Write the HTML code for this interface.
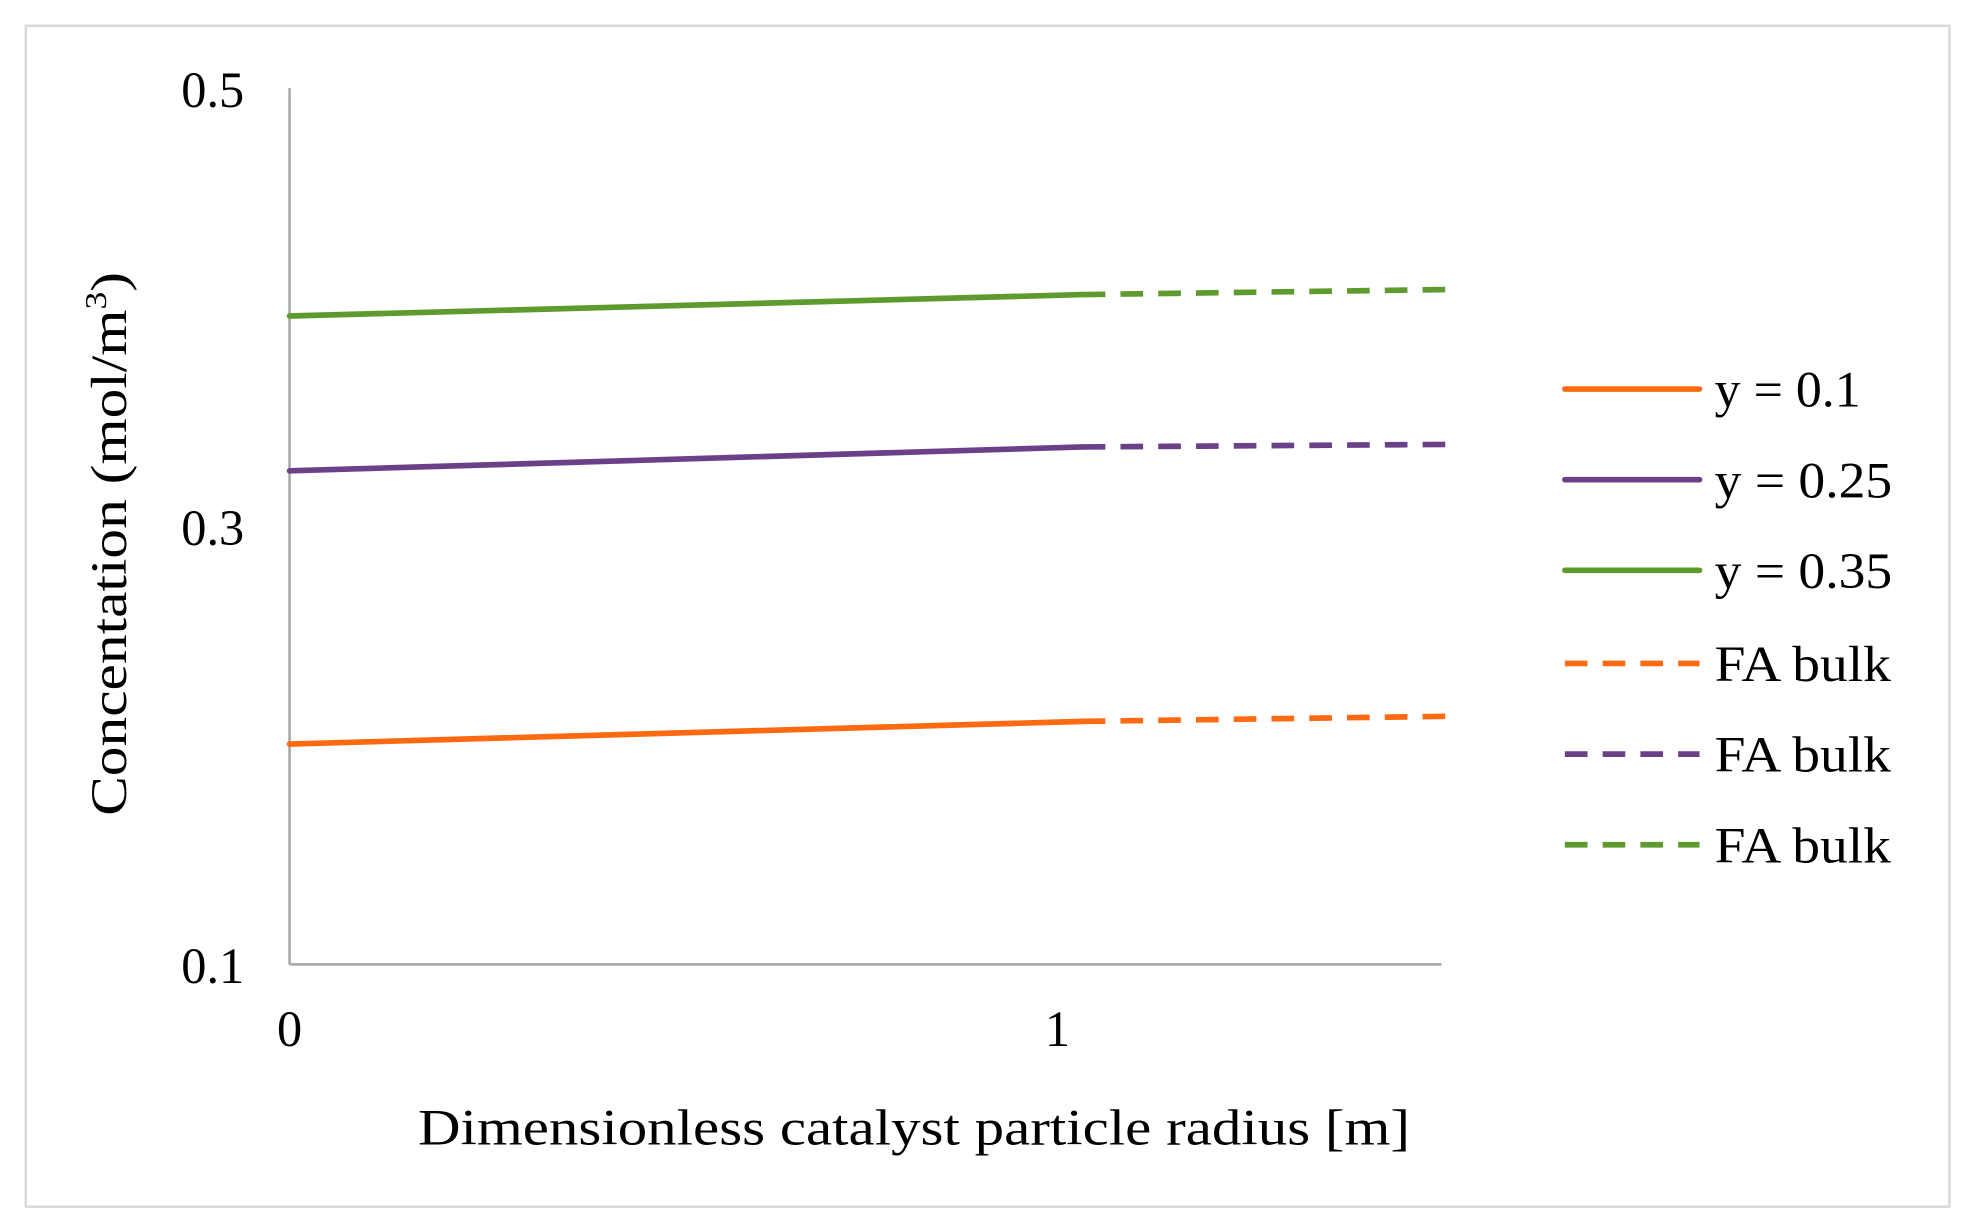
<!DOCTYPE html>
<html><head><meta charset="utf-8"><style>html,body{margin:0;padding:0;background:#fff;}svg{display:block}</style></head>
<body>
<svg width="1974" height="1230" viewBox="0 0 1568 977" xmlns="http://www.w3.org/2000/svg" font-family="'Liberation Serif', serif" fill="#000">
<rect x="0" y="0" width="1568" height="977" fill="#fff"/>
<rect x="20.5" y="20.5" width="1528" height="938" fill="none" stroke="#d9d9d9" stroke-width="2"/>
<line x1="230" y1="70" x2="230" y2="766" stroke="#a6a6a6" stroke-width="2"/>
<line x1="230" y1="766" x2="1145" y2="766" stroke="#a6a6a6" stroke-width="2"/>
<g font-size="40" text-anchor="end">
<text x="194" y="85">0.5</text>
<text x="194" y="433">0.3</text>
<text x="194" y="781">0.1</text>
</g>
<g font-size="40" text-anchor="middle">
<text x="230" y="831">0</text>
<text x="840" y="831">1</text>
</g>
<text x="726" y="909" font-size="40" text-anchor="middle" textLength="788" lengthAdjust="spacingAndGlyphs">Dimensionless catalyst particle radius [m]</text>
<text transform="translate(100,432) rotate(-90)" font-size="40" text-anchor="middle" textLength="432" lengthAdjust="spacingAndGlyphs">Concentation (mol/m<tspan font-size="24" dy="-16">3</tspan><tspan dy="16">)</tspan></text>
<g stroke-width="4.5" fill="none" stroke-linecap="round">
<polyline points="230,251 860,234" stroke="#5f9a2f"/>
<polyline points="860,234 1148,230" stroke="#5f9a2f" stroke-dasharray="18,12" stroke-linecap="butt"/>
<polyline points="230,374 860,355" stroke="#6a4189"/>
<polyline points="860,355 1148,353" stroke="#6a4189" stroke-dasharray="18,12" stroke-linecap="butt"/>
<polyline points="230,591 860,573" stroke="#fe6a12"/>
<polyline points="860,573 1148,569" stroke="#fe6a12" stroke-dasharray="18,12" stroke-linecap="butt"/>
<line x1="1243" y1="309" x2="1350" y2="309" stroke="#fe6a12"/>
<line x1="1243" y1="381" x2="1350" y2="381" stroke="#6a4189"/>
<line x1="1243" y1="453" x2="1350" y2="453" stroke="#5f9a2f"/>
<line x1="1243" y1="527" x2="1350" y2="527" stroke="#fe6a12" stroke-dasharray="18,12" stroke-linecap="butt"/>
<line x1="1243" y1="599" x2="1350" y2="599" stroke="#6a4189" stroke-dasharray="18,12" stroke-linecap="butt"/>
<line x1="1243" y1="671" x2="1350" y2="671" stroke="#5f9a2f" stroke-dasharray="18,12" stroke-linecap="butt"/>
</g>
<g font-size="40">
<text x="1362" y="323" textLength="116" lengthAdjust="spacingAndGlyphs">y = 0.1</text>
<text x="1362" y="395" textLength="141" lengthAdjust="spacingAndGlyphs">y = 0.25</text>
<text x="1362" y="467" textLength="141" lengthAdjust="spacingAndGlyphs">y = 0.35</text>
<text x="1362" y="541" textLength="140" lengthAdjust="spacingAndGlyphs">FA bulk</text>
<text x="1362" y="613" textLength="140" lengthAdjust="spacingAndGlyphs">FA bulk</text>
<text x="1362" y="685" textLength="140" lengthAdjust="spacingAndGlyphs">FA bulk</text>
</g>
</svg>
</body></html>
